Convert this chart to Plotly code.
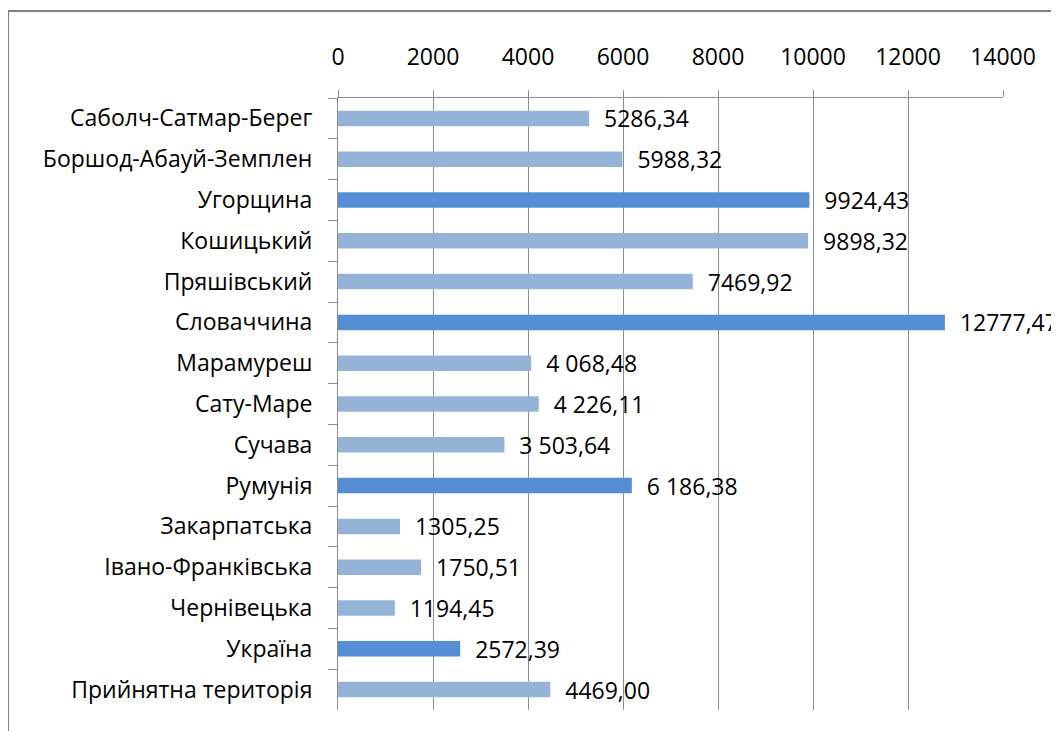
import plotly.graph_objects as go

categories = [
    "Саболч-Сатмар-Берег", "Боршод-Абауй-Земплен", "Угорщина", "Кошицький",
    "Пряшівський", "Словаччина", "Марамуреш", "Сату-Маре", "Сучава", "Румунія",
    "Закарпатська", "Івано-Франківська", "Чернівецька", "Україна",
    "Прийнятна територія",
]
values = [5286.34, 5988.32, 9924.43, 9898.32, 7469.92, 12777.47, 4068.48, 4226.11,
          3503.64, 6186.38, 1305.25, 1750.51, 1194.45, 2572.39, 4469.00]
value_labels = ["5286,34", "5988,32", "9924,43", "9898,32", "7469,92", "12777,47",
                "4 068,48", "4 226,11", "3 503,64", "6 186,38", "1305,25", "1750,51",
                "1194,45", "2572,39", "4469,00"]
highlight = ["Угорщина", "Словаччина", "Румунія", "Україна"]
x_ticks = [0, 2000, 4000, 6000, 8000, 10000, 12000, 14000]
x_tick_labels = ["0", "2000", "4000", "6000", "8000", "10000", "12000", "14000"]

LIGHT = "#95b3d7"
DARK = "#558ed5"
GRID = "#8c8c8c"
FONT = "Open Sans"
FS = 23

colors = [DARK if c in highlight else LIGHT for c in categories]

fig = go.Figure(go.Bar(
    x=values, y=categories, orientation="h",
    marker=dict(color=colors, line=dict(width=0)),
    text=["\u00a0\u00a0" + t for t in value_labels],
    textposition="outside", cliponaxis=False, constraintext="none",
    textfont=dict(family=FONT, size=FS, color="#000000"),
    hoverinfo="skip",
))

# page body adds an 8px offset; layout numbers are in figure pixels
W, H = 1059, 731
ml, mr, mt, mb = 330, 64, 90, 29
pw, ph = W - ml - mr, H - mt - mb

def px_to_paper_x(px):
    return (px - ml) / pw

def px_to_paper_y(py):
    return 1 - (py - mt) / ph

fig.update_layout(
    width=W, height=H,
    margin=dict(l=ml, r=mr, t=mt, b=mb, autoexpand=False),
    paper_bgcolor="white", plot_bgcolor="white",
    bargap=0.62,
    showlegend=False,
    font=dict(family=FONT, size=FS, color="#000000"),
    xaxis=dict(
        side="top", range=[0, 14000], tickvals=x_ticks, ticktext=x_tick_labels,
        showgrid=True, gridcolor=GRID, gridwidth=1,
        showline=True, linecolor=GRID, linewidth=1,
        ticks="outside", ticklen=7, tickcolor=GRID,
        ticklabelstandoff=16, zeroline=False,
        tickfont=dict(family=FONT, size=FS, color="#000000"),
    ),
    yaxis=dict(
        autorange="reversed", tickson="boundaries",
        showline=True, linecolor=GRID, linewidth=1,
        ticks="outside", ticklen=9, tickcolor=GRID,
        ticklabelstandoff=20, showgrid=False,
        tickfont=dict(family=FONT, size=FS, color="#000000"),
    ),
    shapes=[
        dict(type="line", xref="paper", yref="paper",
             x0=px_to_paper_x(0), x1=px_to_paper_x(0),
             y0=px_to_paper_y(3), y1=px_to_paper_y(735),
             line=dict(color="#808080", width=2)),
        dict(type="line", xref="paper", yref="paper",
             x0=px_to_paper_x(0), x1=px_to_paper_x(1065),
             y0=px_to_paper_y(3), y1=px_to_paper_y(3),
             line=dict(color="#808080", width=2)),
    ],
)

fig.write_html("out.html")
